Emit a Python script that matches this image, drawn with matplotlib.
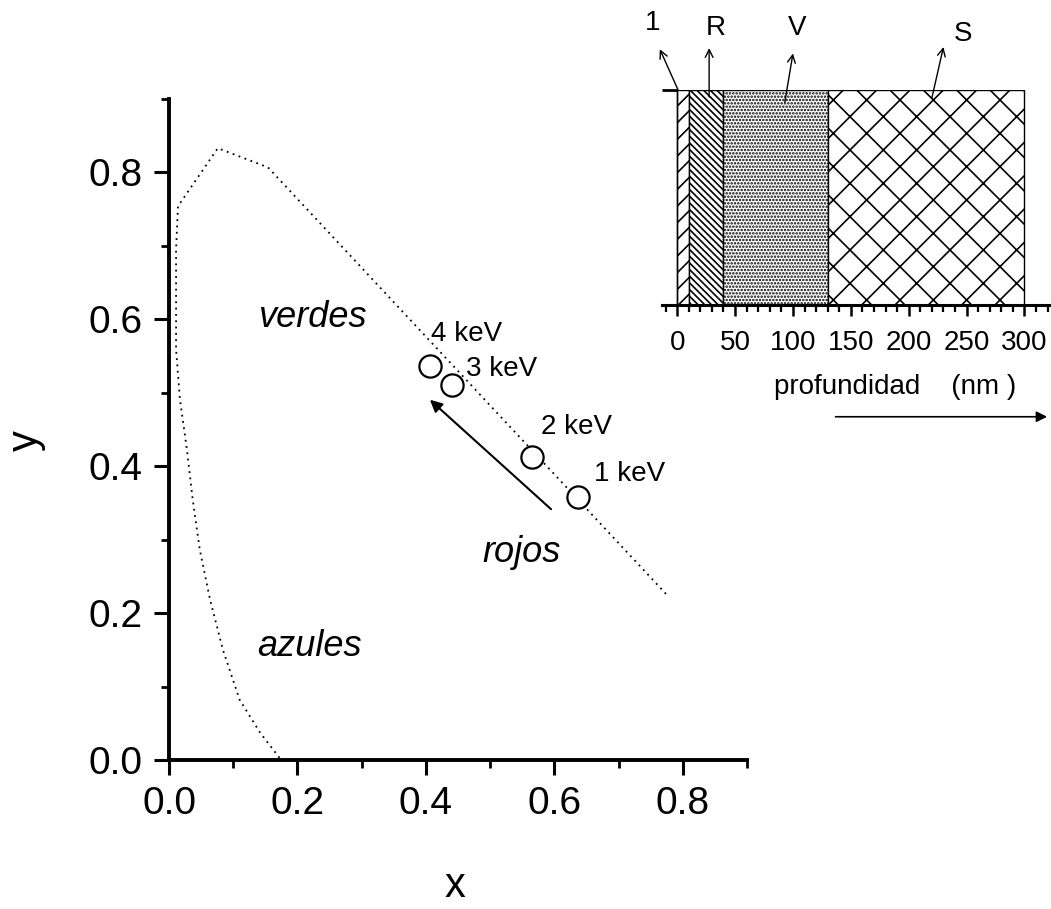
import numpy as np
import matplotlib.pyplot as plt
from matplotlib.ticker import MultipleLocator

plt.rcParams['font.family'] = ['Liberation Sans', 'DejaVu Sans']
plt.rcParams['hatch.linewidth'] = 1.2

# spectral locus (dotted)
locus_x = [0.172, 0.142, 0.110, 0.084, 0.064, 0.048, 0.037, 0.028, 0.017, 0.011, 0.011, 0.014, 0.076, 0.154, 0.775]
locus_y = [0.003, 0.037, 0.082, 0.150, 0.218, 0.286, 0.354, 0.422, 0.491, 0.559, 0.695, 0.754, 0.833, 0.807, 0.225]

# measured points
energies = ['1 keV', '2 keV', '3 keV', '4 keV']
pts_x = [0.637, 0.565, 0.440, 0.406]
pts_y = [0.358, 0.413, 0.511, 0.537]

# inset layers (nm)
layer_names = ['1', 'R', 'V', 'S']
layer_start = [0, 10, 40, 130]
layer_end = [10, 40, 130, 300]
layer_hatch = ['//', '\\\\\\\\\\', '.....', 'x']

fig = plt.figure(figsize=(10.51, 9.09), dpi=100)
ax = fig.add_axes([0.1608, 0.1639, 0.55, 0.7272])

ax.plot(locus_x, locus_y, color='black', linestyle=(0, (1, 2.5)), linewidth=1.3)
ax.plot(pts_x, pts_y, 'o', markersize=16, markerfacecolor='white', markeredgecolor='black', markeredgewidth=1.6)

lbl_pos = {'1 keV': (0.717, 0.390), '2 keV': (0.635, 0.454), '3 keV': (0.518, 0.533), '4 keV': (0.464, 0.580)}
for e in energies:
    ax.text(lbl_pos[e][0], lbl_pos[e][1], e, fontsize=20, ha='center', va='center')

ax.annotate('', xy=(0.403, 0.493), xytext=(0.598, 0.339),
            arrowprops=dict(arrowstyle='-|>', color='black', lw=1.5, mutation_scale=18))

ax.text(0.223, 0.602, 'verdes', fontsize=26, style='italic', ha='center', va='center')
ax.text(0.219, 0.154, 'azules', fontsize=26, style='italic', ha='center', va='center')
ax.text(0.549, 0.283, 'rojos', fontsize=26, style='italic', ha='center', va='center')

ax.set_xlim(0, 0.9)
ax.set_ylim(0, 0.9)
ax.xaxis.set_minor_locator(MultipleLocator(0.1))
ax.yaxis.set_minor_locator(MultipleLocator(0.1))
ax.set_xticks([0, 0.2, 0.4, 0.6, 0.8])
ax.set_xticklabels(['0.0', '0.2', '0.4', '0.6', '0.8'])
ax.set_yticks([0, 0.2, 0.4, 0.6, 0.8])
ax.set_yticklabels(['0.0', '0.2', '0.4', '0.6', '0.8'])
ax.spines['top'].set_visible(False)
ax.spines['right'].set_visible(False)
for s in ['left', 'bottom']:
    ax.spines[s].set_linewidth(2.8)
ax.tick_params(which='major', direction='out', length=11, width=2.2, labelsize=28, pad=8)
ax.tick_params(which='minor', direction='out', length=6, width=2.0)
ax.set_xlabel('x', fontsize=30)
ax.set_ylabel('y', fontsize=30)
ax.xaxis.set_label_coords(0.495, -0.16)
ax.yaxis.set_label_coords(-0.213, 0.484)

# inset
ins = fig.add_axes([0.630, 0.6645, 0.369, 0.2365])
for i in range(len(layer_names)):
    ins.bar(layer_start[i], 1, width=layer_end[i] - layer_start[i], align='edge',
            facecolor='white', edgecolor='black', hatch=layer_hatch[i], linewidth=1.0)
ins.set_xlim(-13, 322)
ins.set_ylim(0, 1)
ins.spines['top'].set_visible(False)
ins.spines['right'].set_visible(False)
ins.spines['left'].set_position(('data', 0))
ins.spines['left'].set_linewidth(1.0)
ins.spines['bottom'].set_linewidth(2.2)
ins.set_xticks([0, 50, 100, 150, 200, 250, 300])
ins.xaxis.set_minor_locator(MultipleLocator(10))
ins.set_yticks([1])
ins.set_yticklabels([])
ins.tick_params(which='major', direction='out', length=8, width=1.8, labelsize=20, pad=10)
ins.tick_params(which='minor', direction='out', length=5, width=1.6)
ins.tick_params(axis='y', length=11, width=2.0)

ins_lbl_x = [-21, 33, 104, 247]
ins_lbl_y = [1.31, 1.29, 1.29, 1.26]
ins_arr_head = [(-15, 1.19), (27.6, 1.195), (100, 1.17), (230, 1.2)]
ins_arr_tail = [(0.8, 1.0), (27.6, 0.967), (93, 0.944), (220, 0.963)]
for i in range(len(layer_names)):
    ins.text(ins_lbl_x[i], ins_lbl_y[i], layer_names[i], fontsize=20, ha='center', va='center', clip_on=False)
    ins.annotate('', xy=ins_arr_head[i], xytext=ins_arr_tail[i], annotation_clip=False,
                 arrowprops=dict(arrowstyle='->', color='black', lw=1.0, mutation_scale=14,
                                 shrinkA=0, shrinkB=0))

ins.text(0.60, -0.38, 'profundidad    (nm )', transform=ins.transAxes, fontsize=20, ha='center', va='center')
ins.annotate('', xy=(1.0, -0.52), xytext=(0.44, -0.52), xycoords='axes fraction', textcoords='axes fraction',
             annotation_clip=False, arrowprops=dict(arrowstyle='-|>', color='black', lw=1.2, mutation_scale=16))

fig.savefig('out.png', dpi=100)
